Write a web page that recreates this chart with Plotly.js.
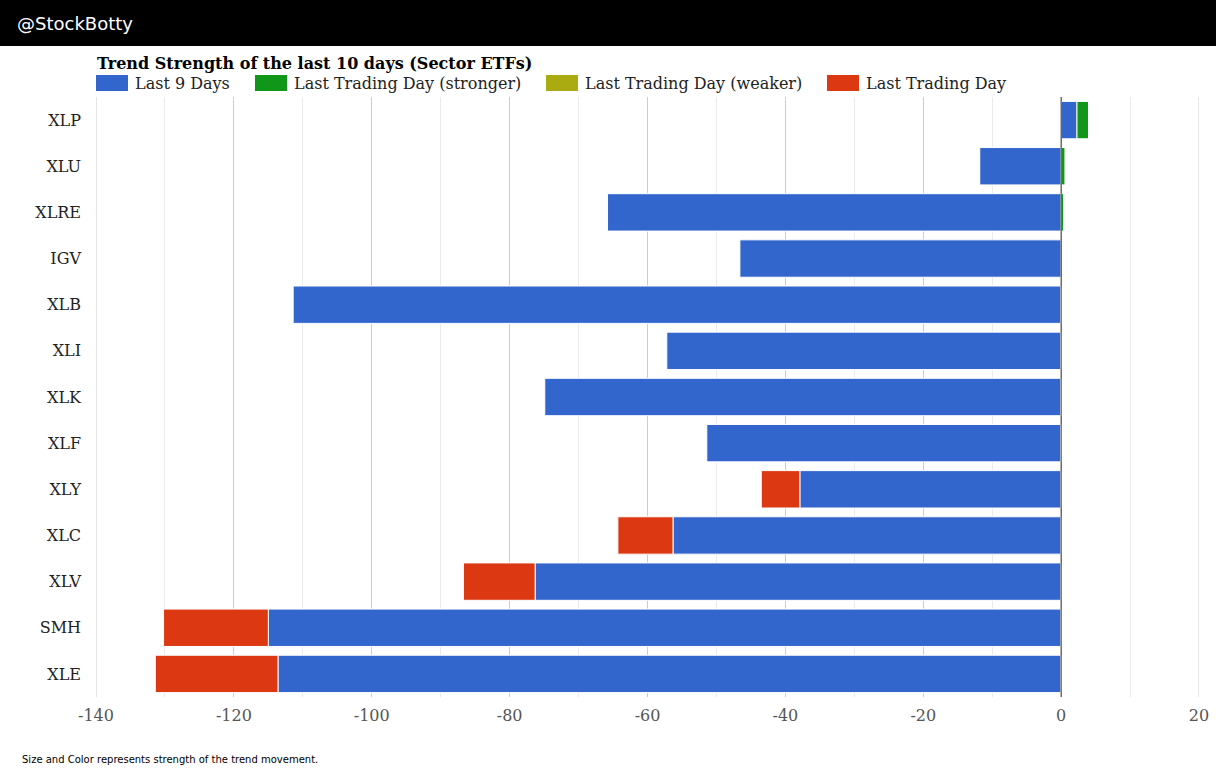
<!DOCTYPE html>
<html>
<head>
<meta charset="utf-8">
<script src="https://cdn.plot.ly/plotly-3.0.1.min.js"></script>
<style>html,body{margin:0;padding:0;background:#fff;}#chart{width:1216px;height:769px;}</style>
</head>
<body>
<div id="chart"></div>
<script>
const categories = ["XLP","XLU","XLRE","IGV","XLB","XLI","XLK","XLF","XLY","XLC","XLV","SMH","XLE"];
const last9Days = [2.3,-11.8,-65.8,-46.6,-111.4,-57.2,-74.9,-51.4,-37.9,-56.3,-76.3,-115.0,-113.6];
const lastDayStronger = [1.7,0.6,0.4,0.2,0,0,0,0,0,0,0,0,0];
const lastDayWeaker = [null,null,null,null,null,null,null,null,null,null,null,null,null];
const lastTradingDay = [0,0,0,0,0,0,0,0,-5.6,-8.0,-10.4,-15.2,-17.8];
const xTicks = [-140,-120,-100,-80,-60,-40,-20,0,20];
const seriesNames = ["Last 9 Days","Last Trading Day (stronger)","Last Trading Day (weaker)","Last Trading Day"];
const seriesColors = ["#3366cc","#109618","#aaaa11","#dc3912"];

const serif = "DejaVu Serif, serif";
const W = 1216, H = 769, ML = 96, MR = 17, MT = 97, MB = 72;
const PW = W - ML - MR, PH = H - MT - MB;
const px = x => (x - ML) / PW;
const py = y => (H - MB - y) / PH;

const line = {color:"#ffffff", width:1};
const seriesValues = [last9Days, lastDayStronger, lastDayWeaker, lastTradingDay];
const data = seriesValues.map((vals, i) => ({
  type:"bar", orientation:"h", name:seriesNames[i], y:categories, x:vals,
  marker:{color:seriesColors[i], line:line}, hoverinfo:"x+y"
}));

// manual legend (swatch left edges in px)
const legendX = [96, 255, 546, 827];
const shapes = [
  {type:"rect", xref:"paper", yref:"paper", x0:px(-5), x1:px(W+5), y0:py(46), y1:py(-5),
   fillcolor:"#000", line:{width:0}, layer:"above"},
  {type:"line", xref:"x", yref:"paper", x0:xTicks[0], x1:xTicks[0], y0:0, y1:1,
   line:{color:"#cccccc", width:1}, layer:"below"},
  {type:"line", xref:"x", yref:"paper", x0:xTicks[xTicks.length-1], x1:xTicks[xTicks.length-1], y0:0, y1:1,
   line:{color:"#cccccc", width:1}, layer:"below"},
  {type:"line", xref:"x", yref:"paper", x0:0, x1:0, y0:0, y1:1,
   line:{color:"#333333", width:1}, layer:"above"}
];
const annotations = [
  {xref:"paper", yref:"paper", x:px(15), y:py(23), xanchor:"left", yanchor:"middle",
   text:"@StockBotty", showarrow:false, font:{family:"DejaVu Sans, sans-serif", size:18, color:"#fff"}},
  {xref:"paper", yref:"paper", x:px(95), y:py(63), xanchor:"left", yanchor:"middle",
   text:"<b>Trend Strength of the last 10 days (Sector ETFs)</b>", showarrow:false,
   font:{family:serif, size:16, color:"#000"}},
  {xref:"paper", yref:"paper", x:px(20), y:py(759), xanchor:"left", yanchor:"middle",
   text:"Size and Color represents strength of the trend movement.", showarrow:false,
   font:{family:"DejaVu Sans, sans-serif", size:10, color:"#000"}}
];
seriesNames.forEach((n, i) => {
  shapes.push({type:"rect", xref:"paper", yref:"paper", x0:px(legendX[i]), x1:px(legendX[i]+32),
               y0:py(91), y1:py(75), fillcolor:seriesColors[i], line:{width:0}, layer:"above"});
  annotations.push({xref:"paper", yref:"paper", x:px(legendX[i]+37), y:py(84), xanchor:"left", yanchor:"middle",
                    text:n, showarrow:false, font:{family:serif, size:16, color:"#222"}});
});

const layout = {
  width:W, height:H,
  margin:{l:ML, r:MR, t:MT, b:MB},
  paper_bgcolor:"#fff", plot_bgcolor:"#fff",
  barmode:"relative", bargap:0.19,
  font:{family:serif, size:16, color:"#222"},
  xaxis:{range:[-140,20], tickvals:xTicks, ticktext:xTicks.map(String),
         showgrid:true, gridcolor:"#cccccc", gridwidth:1,
         minor:{dtick:10, tick0:0, showgrid:true, gridcolor:"#ebebeb", gridwidth:1},
         zeroline:false,
         tickfont:{family:serif, size:16, color:"#555"}, ticks:"", ticklabelstandoff:7, showline:false,
         fixedrange:true},
  yaxis:{autorange:"reversed", tickfont:{family:serif, size:16, color:"#222"},
         ticks:"", ticklabelstandoff:14, showgrid:false, zeroline:false, fixedrange:true},
  showlegend:false,
  shapes:shapes,
  annotations:annotations
};
Plotly.newPlot("chart", data, layout, {displayModeBar:false, staticPlot:true});
</script>
</body>
</html>
